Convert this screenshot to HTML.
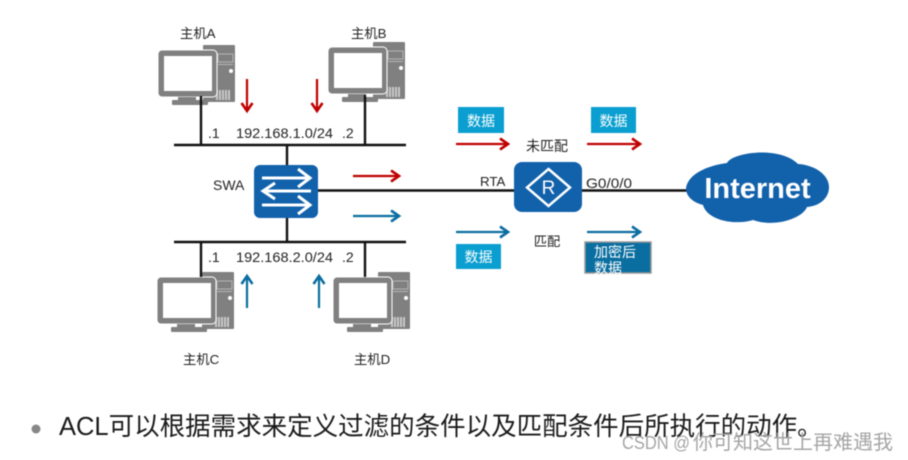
<!DOCTYPE html>
<html>
<head>
<meta charset="utf-8">
<style>
html,body{margin:0;padding:0;background:#fff;width:908px;height:460px;overflow:hidden}
svg{display:block;filter:blur(0.4px)}
text{font-family:"Liberation Sans","Noto Sans CJK SC",sans-serif;fill:#222}
.l{font-size:14px}
.c{font-size:13.3px}
</style>
</head>
<body>
<svg width="908" height="460" viewBox="0 0 908 460" xmlns="http://www.w3.org/2000/svg">
<defs>
<g id="pc">
  <rect x="45" y="-5" width="32" height="57" rx="1" fill="#808080"/>
  <rect x="60" y="4" width="15" height="8" fill="none" stroke="#b5b5b5" stroke-width="1"/>
  <rect x="60" y="14" width="15" height="1" fill="#b5b5b5"/>
  <circle cx="73" cy="21" r="2" fill="#fff"/>
  <g fill="#c8c8c8"><rect x="58" y="40" width="2" height="10"/><rect x="61" y="40" width="2" height="10"/><rect x="64" y="40" width="2" height="10"/><rect x="67" y="40" width="2" height="10"/><rect x="70" y="40" width="2" height="10"/></g>
  <rect x="0" y="0" width="59" height="47" rx="4" fill="#808080" stroke="#fff" stroke-width="1"/>
  <rect x="6" y="6" width="48" height="35" fill="#fff"/>
  <rect x="20" y="47" width="18" height="4" fill="#808080"/>
  <rect x="14" y="50" width="36" height="5" rx="1" fill="#808080"/>
</g>
<marker id="r" markerUnits="userSpaceOnUse" markerWidth="14" markerHeight="14" refX="11" refY="7" orient="auto"><path d="M3 1.500L11 7L3 12.500" fill="none" stroke="#c00000" stroke-width="2.600"/></marker>
<marker id="b" markerUnits="userSpaceOnUse" markerWidth="14" markerHeight="14" refX="11" refY="7" orient="auto"><path d="M3 1.500L11 7L3 12.500" fill="none" stroke="#0a6ea0" stroke-width="2.600"/></marker>
</defs>

<use href="#pc" x="158" y="50"/>
<use href="#pc" x="328" y="47"/>
<use href="#pc" x="157" y="277"/>
<use href="#pc" x="333" y="277"/>

<g stroke="#111" stroke-width="2.400" fill="none">
  <path d="M174 145H406M174 242H406"/>
  <path d="M201 96V145M365 95V145M201 242V277M365 242V277"/>
  <path d="M287 145V166M287 216V242"/>
  <path d="M318 190.500H516M581 190.500H690"/>
</g>

<rect x="254" y="165" width="64" height="53" rx="6" fill="#1261ab"/>
<g fill="none" stroke="#fff" stroke-width="3">
  <path d="M262 178H309M298 169L310 178L298 187"/>
  <path d="M311 191H264M275 183L263 191L275 199"/>
  <path d="M262 205H309M298 196L310 205L298 214"/>
</g>

<rect x="514" y="162" width="68" height="50" rx="8" fill="#1261ab"/>
<path d="M548.500 169L570 187.500L548.500 206L527 187.500Z" fill="none" stroke="#fff" stroke-width="2.500"/>
<text x="548.500" y="194" font-size="19" text-anchor="middle" style="fill:#fff">R</text>

<path d="M686 188C688 175 705 166 727 163C733 152 780 146 798 164C815 165 829 175 829 187C829 198 820 206 807 207C803 218 775 228 753 220C738 225 708 222 703 205C692 202 686 196 686 188Z" fill="#1261ab"/>
<text x="757.500" y="198" font-size="29" font-weight="700" text-anchor="middle" style="fill:#fff">Internet</text>

<g fill="none" stroke="#c00000" stroke-width="2.200">
  <path d="M247 79V111" marker-end="url(#r)"/>
  <path d="M317 79V111" marker-end="url(#r)"/>
  <path d="M353 176H399" marker-end="url(#r)"/>
  <path d="M456 144H508" marker-end="url(#r)"/>
  <path d="M587 144H640" marker-end="url(#r)"/>
</g>
<g fill="none" stroke="#0a6ea0" stroke-width="2.200">
  <path d="M247 308V276" marker-end="url(#b)"/>
  <path d="M319 308V276" marker-end="url(#b)"/>
  <path d="M353 216H399" marker-end="url(#b)"/>
  <path d="M456 232H508" marker-end="url(#b)"/>
  <path d="M587 232H640" marker-end="url(#b)"/>
</g>

<rect x="458" y="107" width="46" height="26" fill="#0a9fd0"/>
<rect x="591" y="107" width="45" height="26" fill="#0a9fd0"/>
<rect x="456" y="244" width="45" height="25" fill="#0a9fd0"/>
<rect x="585" y="242" width="66" height="31" fill="#0a6ea0" stroke="#999" stroke-width="1.500"/>
<text x="481" y="126" font-size="14" text-anchor="middle" style="fill:#fff">数据</text>
<text x="613.500" y="126" font-size="14" text-anchor="middle" style="fill:#fff">数据</text>
<text x="478.500" y="262" font-size="14" text-anchor="middle" style="fill:#fff">数据</text>
<text x="594" y="257" font-size="14" style="fill:#fff">加密后</text>
<text x="594" y="273" font-size="14" style="fill:#fff">数据</text>

<text class="c" x="180" y="38">主机A</text>
<text class="c" x="351" y="38">主机B</text>
<text class="c" x="183" y="364">主机C</text>
<text class="c" x="354" y="364">主机D</text>
<text class="l" x="208" y="138">.1</text>
<text class="l" x="236" y="138" textLength="97" lengthAdjust="spacingAndGlyphs">192.168.1.0/24</text>
<text class="l" x="342" y="138">.2</text>
<text class="l" x="208" y="262">.1</text>
<text class="l" x="236" y="262" textLength="97" lengthAdjust="spacingAndGlyphs">192.168.2.0/24</text>
<text class="l" x="342" y="262">.2</text>
<text class="l" x="213" y="190">SWA</text>
<text class="c" x="480" y="186">RTA</text>
<text class="l" x="586" y="188" textLength="46" lengthAdjust="spacingAndGlyphs">G0/0/0</text>
<text class="l" x="547" y="151" text-anchor="middle">未匹配</text>
<text class="c" x="547" y="246" text-anchor="middle">匹配</text>

<circle cx="36" cy="429" r="4.500" fill="#888"/>
<text x="59" y="435" font-size="25.500" style="fill:#1a1a1a">ACL可以根据需求来定义过滤的条件以及匹配条件后所执行的动作。</text>

<text x="622" y="449" font-size="18" textLength="68" lengthAdjust="spacingAndGlyphs" style="fill:#a5a5a5">CSDN @</text>
<text x="693" y="449" font-size="20" style="fill:#a5a5a5">你可知这世上再难遇我</text>
</svg>
</body>
</html>
